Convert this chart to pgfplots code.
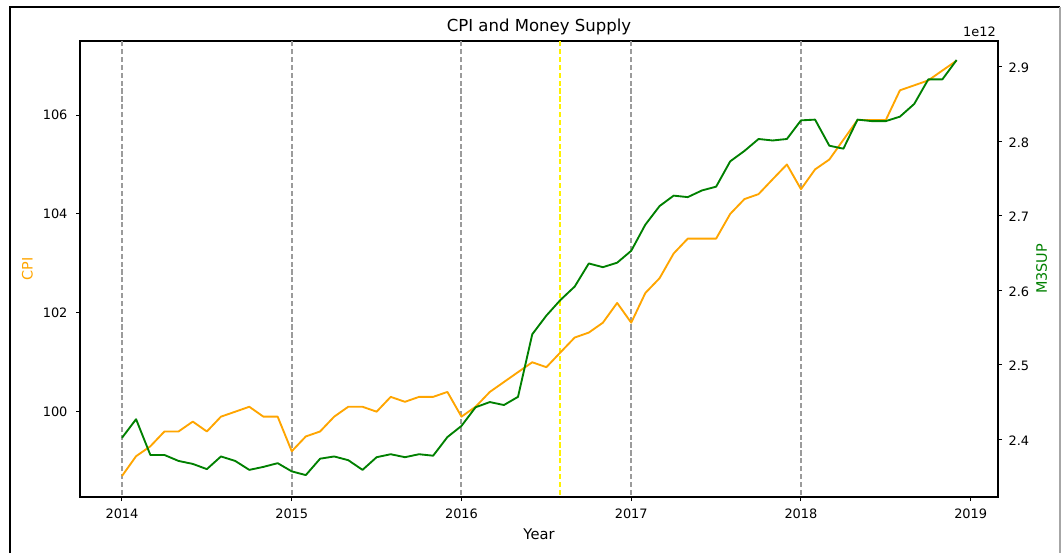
\documentclass[border=0pt]{standalone}
\usepackage{fontspec}
\setmainfont{DejaVu Sans}
\usepackage{pgfplots}
\pgfplotsset{compat=1.18}
\usepackage{pgfplotstable}

\definecolor{cpiorange}{RGB}{255,165,0}
\definecolor{mgreen}{RGB}{0,128,0}
\definecolor{vgray}{RGB}{155,155,155}

\pgfplotstableread{
date cpi m3
2014.000 98.7 2.402
2014.083 99.1 2.427
2014.167 99.3 2.379
2014.250 99.6 2.379
2014.333 99.6 2.371
2014.417 99.8 2.367
2014.500 99.6 2.360
2014.583 99.9 2.377
2014.667 100.0 2.371
2014.750 100.1 2.359
2014.833 99.9 2.363
2014.917 99.9 2.368
2015.000 99.2 2.357
2015.083 99.5 2.352
2015.167 99.6 2.374
2015.250 99.9 2.377
2015.333 100.1 2.372
2015.417 100.1 2.359
2015.500 100.0 2.376
2015.583 100.3 2.380
2015.667 100.2 2.376
2015.750 100.3 2.380
2015.833 100.3 2.378
2015.917 100.4 2.403
2016.000 99.9 2.418
2016.083 100.1 2.443
2016.167 100.4 2.450
2016.250 100.6 2.446
2016.333 100.8 2.457
2016.417 101.0 2.541
2016.500 100.9 2.566
2016.583 101.2 2.587
2016.667 101.5 2.605
2016.750 101.6 2.636
2016.833 101.8 2.631
2016.917 102.2 2.637
2017.000 101.8 2.653
2017.083 102.4 2.688
2017.167 102.7 2.713
2017.250 103.2 2.727
2017.333 103.5 2.725
2017.417 103.5 2.734
2017.500 103.5 2.739
2017.583 104.0 2.773
2017.667 104.3 2.787
2017.750 104.4 2.803
2017.833 104.7 2.801
2017.917 105.0 2.803
2018.000 104.5 2.828
2018.083 104.9 2.829
2018.167 105.1 2.794
2018.250 105.5 2.790
2018.333 105.9 2.829
2018.417 105.9 2.827
2018.500 105.9 2.827
2018.583 106.5 2.833
2018.667 106.6 2.850
2018.750 106.7 2.883
2018.833 106.9 2.883
2018.917 107.1 2.909
}\datatable

\pgfplotsset{
  common/.style={
    at={(60pt,42pt)}, anchor=south west,
    scale only axis, width=688.5pt, height=342pt,
    xmin=2013.7526, xmax=2019.1608,
    tick align=outside,
    major tick length=3pt,
    every tick/.style={black, line width=0.75pt},
    axis line style={line width=0.8pt, black},
    every tick label/.append style={font=\fontsize{9.7}{11}\selectfont, inner sep=0pt, black},
    /pgf/number format/assume math mode=true,
  }
}

\begin{document}
\begin{tikzpicture}
\useasboundingbox (0,0) rectangle (796.5pt,414.75pt);
\draw[line width=1pt, black] (7.5pt,0) -- (7.5pt,409.5pt) -- (795pt,409.5pt);
\draw[line width=0.8pt, black!35] (795pt,409.5pt) -- (795pt,0);

\begin{axis}[
  common,
  ymin=98.275, ymax=107.497,
  xtick={2014,2015,2016,2017,2018,2019},
  xticklabels={2014,2015,2016,2017,2018,2019},
  xtick pos=lower,
  ytick={100,102,104,106},
  yticklabels={100,102,104,106},
  ytick pos=left,
  xticklabel style={anchor=base, yshift=-12.75pt},
  yticklabel style={anchor=east, xshift=-6.2pt},
  title={CPI and Money Supply},
  title style={at={(axis description cs:0.5,1)}, anchor=base, yshift=1.1pt, font=\fontsize{12.4}{14}\selectfont, inner sep=0pt},
  xlabel={Year},
  xlabel style={at={(axis description cs:0.5,0)}, anchor=base, yshift=-32pt, font=\fontsize{11}{13}\selectfont, inner sep=0pt},
  ylabel={CPI},
  ylabel style={at={(axis description cs:-0.0572,0.5)}, anchor=center, rotate=0, font=\fontsize{10.8}{13}\selectfont, text=cpiorange, inner sep=0pt},
]
\addplot[vgray, line width=1.5pt, dash pattern=on 3.9pt off 2pt] coordinates {(2014,98) (2014,108)};
\addplot[vgray, line width=1.5pt, dash pattern=on 3.9pt off 2pt] coordinates {(2015,98) (2015,108)};
\addplot[vgray, line width=1.5pt, dash pattern=on 3.9pt off 2pt] coordinates {(2016,98) (2016,108)};
\addplot[vgray, line width=1.5pt, dash pattern=on 3.9pt off 2pt] coordinates {(2017,98) (2017,108)};
\addplot[vgray, line width=1.5pt, dash pattern=on 3.9pt off 2pt] coordinates {(2018,98) (2018,108)};
\addplot[yellow, line width=1.5pt, dash pattern=on 3.9pt off 2pt] coordinates {(2016.583,98) (2016.583,108)};
\addplot[cpiorange, line width=1.4pt, line join=round] table[x=date, y=cpi] {\datatable};
\end{axis}

\begin{axis}[
  common,
  ymin=2.3226, ymax=2.9345,
  axis x line=none,
  axis y line*=right,
  ytick={2.4,2.5,2.6,2.7,2.8,2.9},
  yticklabels={2.4,2.5,2.6,2.7,2.8,2.9},
  yticklabel style={anchor=west, xshift=4.7pt, yshift=-1pt},
  ylabel={M3SUP},
  ylabel style={at={(axis description cs:1.0476,0.5)}, anchor=center, rotate=0, font=\fontsize{10.8}{13}\selectfont, text=mgreen, inner sep=0pt},
  extra description/.code={
    \node[anchor=base east, inner sep=0pt, font=\fontsize{9.7}{11}\selectfont, xshift=-1.5pt, yshift=3.2pt] at (1,1) {1e12};
  },
]
\addplot[mgreen, line width=1.4pt, line join=round] table[x=date, y=m3] {\datatable};
\end{axis}
\end{tikzpicture}
\end{document}
